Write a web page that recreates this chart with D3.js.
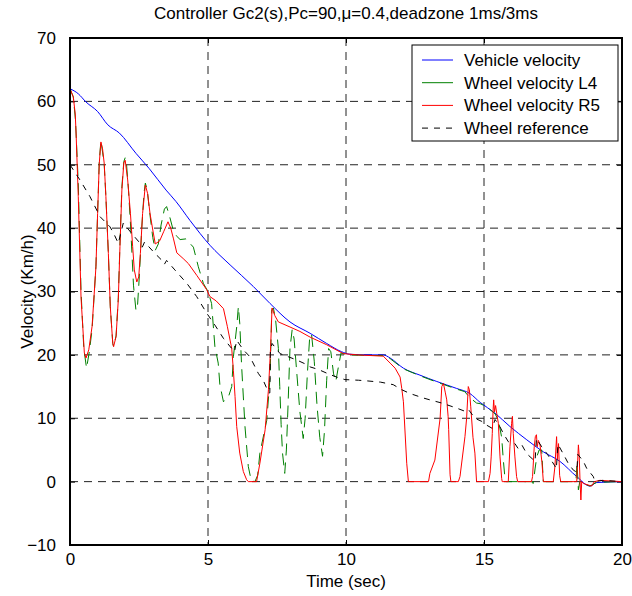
<!DOCTYPE html>
<html><head><meta charset="utf-8">
<script src="https://cdn.jsdelivr.net/npm/d3@7"></script>
<style>
body{margin:0;background:#fff}
svg{display:block}
text{font-family:"Liberation Sans",Arial,Helvetica,sans-serif;fill:#000}
</style>
</head><body>
<svg id="chart" width="632" height="596"></svg>
<script>
// ---------- data ----------
const chartTitle = "Controller Gc2(s),Pc=90,\u03bc=0.4,deadzone 1ms/3ms";
const xLabel = "Time (sec)";
const yLabel = "Velocity (Km/h)";
const xTicks = [0, 5, 10, 15, 20];
const yTicks = [-10, 0, 10, 20, 30, 40, 50, 60, 70];
const seriesNames = ["Vehicle velocity", "Wheel velocity L4", "Wheel velocity R5", "Wheel reference"];

const timeVehicle = [0,0.3,0.58,1.0,1.37,1.79,2.39,2.87,3.48,3.84,4.35,5.07,5.8,6.64,7.25,7.97,8.7,9.3,9.84,10.14,10.87,11.35,11.6,12.08,12.68,13.29,14.01,14.49,14.86,15.4,15.94,16.55,17.15,17.75,18.36,18.84,19.08,20];
const vehicleVelocity = [62,61.2,59.9,58.4,56.3,55,51.8,49.4,46,44.2,41.2,37.3,34.2,30.8,28.1,25.2,23.4,21.8,20.5,20.1,20,20,19.5,17.9,16.8,15.8,14.7,13.9,12.5,10.8,8.7,6.6,4.7,3.2,0.8,-0.7,-0.15,0];

const timeL4 = [0,0.12,0.2,0.3,0.4,0.5,0.6,0.7,0.8,0.94,1.0,1.06,1.12,1.18,1.24,1.3,1.39,1.46,1.55,1.58,1.67,1.75,1.81,1.88,1.95,2.0,2.05,2.12,2.2,2.3,2.39,2.45,2.52,2.6,2.68,2.73,2.8,2.9,3.0,3.09,3.2,3.3,3.42,3.5,3.6,3.72,3.85,3.99,4.2,4.47,4.65,4.83,5.0,5.13,5.25,5.37,5.43,5.56,5.62,5.75,5.86,5.92,6.04,6.1,6.15,6.22,6.34,6.46,6.56,6.7,6.8,6.88,7.13,7.25,7.31,7.37,7.45,7.55,7.6,7.65,7.7,7.78,7.84,7.9,7.97,8.05,8.12,8.22,8.33,8.45,8.52,8.6,8.68,8.75,8.85,8.95,9.05,9.15,9.22,9.3,9.37,9.45,9.55,9.63,9.72,9.82,9.9,10.14,10.87,11.35,11.6,12.08,12.68,13.29,14.01,14.3,14.5,14.73,14.86,15.1,15.4,15.52,15.64,15.7,15.76,15.8,16.72,16.78,16.85,16.91,17.0,17.09,17.15,18.33,18.37,18.42,18.47,18.6,18.84,19.08,20];
const wheelL4 = [62,60.7,57,47,30,21,17.9,20.5,24,34,42.3,50.5,53.8,52,50,45,36,27.6,21.8,21.3,23,29,37.5,46.5,50.5,51.1,50,46,40,31,27,28,33,40,45.5,47.1,46,42,38.5,36.5,37.5,40.5,43,43.4,42,40,38.8,38.2,38.3,37,33.9,31.3,30,28.1,21.3,18.7,15.3,12.6,12.9,13.5,15,19.7,24.4,27.6,25,18.1,8.7,2.4,0.3,0,1,4.5,9.7,16.6,27.1,27.4,25.5,21,15,9,4.5,1.3,5,12,21,24,22.5,17,11,6.8,10,17,22.5,23.3,19,12,7,4,8,16,21,20.5,17,15.8,18,20.3,20.2,20,19.9,19.9,19.4,17.8,16.7,15.7,14.6,14.2,13.2,12.4,12.3,11.8,10.7,9.7,7,3.4,0.5,0,0,-0.3,2,3.9,5,5,0,0,2.9,-1.3,0,-0.3,-0.7,-0.1,0];

const timeR5 = [0,0.12,0.19,0.22,0.3,0.4,0.52,0.58,0.68,0.8,0.94,1.0,1.06,1.12,1.18,1.24,1.3,1.39,1.46,1.55,1.58,1.67,1.75,1.81,1.88,1.95,2.0,2.09,2.19,2.27,2.33,2.42,2.49,2.55,2.63,2.73,2.81,2.9,3.0,3.09,3.25,3.4,3.55,3.65,3.75,3.87,4.1,4.29,4.6,4.95,5.07,5.3,5.56,5.7,5.86,5.92,5.98,6.04,6.15,6.28,6.4,6.46,6.76,6.88,7.07,7.19,7.27,7.32,7.42,7.55,7.97,8.33,8.7,9.3,9.9,10.4,11.35,11.6,11.78,11.96,12.02,12.08,12.2,12.26,12.99,13.04,13.22,13.41,13.47,13.53,13.6,13.65,13.7,13.72,13.77,13.8,14.07,14.13,14.31,14.37,14.43,14.47,14.52,14.6,14.67,14.73,15.16,15.22,15.26,15.3,15.33,15.35,15.38,15.42,15.46,15.52,15.58,15.64,15.66,15.88,15.94,16.0,16.03,16.06,16.12,16.18,16.22,16.72,16.76,16.82,16.86,16.9,16.93,16.97,17.03,17.1,17.15,17.51,17.57,17.63,17.66,17.7,17.74,17.78,18.36,18.42,18.45,18.48,18.51,18.54,18.6,18.9,19.0,19.2,20];
const wheelR5 = [62,60.7,58,55,45,29,20.3,19.5,20.8,24.5,33.9,42.3,50.2,53.6,52.5,50.2,45,36,27.6,21.8,21.3,22.9,28.7,37.1,46,50.3,50.7,47.6,42.3,37.1,33.4,31.5,32.3,36,42.3,46.8,45.5,42.3,39.7,37.5,38,39.5,41,40,38.3,36.1,35.2,34.4,32.5,30.3,29.2,28.5,27.3,24.5,21,17.5,13.4,8.7,4.5,1.6,0.3,0,0,2.9,8.2,14.5,21.3,27.4,26.2,25.2,24.4,23.7,22.8,21.6,20.2,20,19.8,18.7,17.9,16.5,14.7,12.6,2.9,0,0,1.3,3.4,10,15,15.5,14,12.9,10.3,8.2,1.1,0,0,0.8,7.1,10,15,14.5,11.8,7,4.5,0,0,1.3,3.9,7.6,11.3,12.9,11,12,10.8,9.2,3.9,0.5,0,0,5.5,9.2,10.3,7.6,3.9,0.8,0,0,0.8,5.5,7.1,7.4,5.5,6.5,5.8,3,0,0,2.4,7.1,3.5,6,1,0,0,5.8,4,0,-2.9,0,-0.3,-0.7,0,0.2,0];

const timeRef = [0,0.36,0.72,1.09,1.45,1.6,1.75,1.93,2.23,2.54,2.62,2.7,3.08,3.38,3.42,3.5,3.8,4.23,4.59,4.95,5.25,5.56,5.86,5.96,6.04,6.28,6.52,6.82,7.0,7.2,7.24,7.26,7.32,7.61,7.91,8.21,8.51,8.7,9.0,9.36,9.66,9.96,10.45,10.75,11.25,11.71,12.02,12.32,12.8,13.04,13.47,14.01,14.37,14.45,14.67,14.92,15.1,15.3,15.4,15.55,15.7,15.88,16.12,16.24,16.37,16.55,16.85,16.9,17.09,17.3,17.55,17.62,17.68,17.93,18.05,18.24,18.36,18.4,18.6,18.72,18.96,19.02,19.3,20];
const wheelRef = [50,47.6,45,41.8,40.2,39,37.6,40.8,39.2,37.6,37,37.8,36,34.7,34.3,34.9,33.4,31.3,29.2,26.6,24.7,22.6,21,20.5,22.3,20.8,19.7,17.1,16,14,14,20.5,21.8,20.2,19.7,19.2,18.6,18.1,17.7,17,16.5,16.1,16,15.9,15.7,15.3,14.5,13.9,13.2,12.9,12.4,11.6,11,11.3,10,9.5,8.9,8.4,9.8,8.9,7.6,6.3,6,5.2,5.8,4.4,3.2,6.8,5.5,4.3,2.6,2,5.9,3.9,2.9,1.8,1.5,4.3,3.2,2.1,0.8,0,0.2,0];

// ---------- layout ----------
const svg = d3.select("#chart");
const pL = 70, pR = 622, pT = 38, pB = 545;
const x = d3.scaleLinear().domain([0, 20]).range([pL, pR]);
const y = d3.scaleLinear().domain([-10, 70]).range([pB, pT]);

// grid
const grid = svg.append("g").attr("stroke", "#222").attr("stroke-width", 1).attr("stroke-dasharray", "8,6").attr("fill", "none");
xTicks.filter(d => d > 0 && d < 20).forEach(d => {
  grid.append("line").attr("x1", x(d)).attr("x2", x(d)).attr("y1", pT).attr("y2", pB);
});
yTicks.filter(d => d > -10 && d < 70).forEach(d => {
  grid.append("line").attr("x1", pL).attr("x2", pR).attr("y1", y(d)).attr("y2", y(d));
});

// axes
const fs = 17;
const xAxis = svg.append("g").attr("transform", `translate(0,${pB})`)
  .call(d3.axisBottom(x).tickValues(xTicks).tickSizeInner(-5).tickSizeOuter(0).tickPadding(8).tickFormat(d3.format("d")));
const xAxisTop = svg.append("g").attr("transform", `translate(0,${pT})`)
  .call(d3.axisTop(x).tickValues(xTicks).tickSizeInner(-5).tickSizeOuter(0).tickFormat(""));
const yAxis = svg.append("g").attr("transform", `translate(${pL},0)`)
  .call(d3.axisLeft(y).tickValues(yTicks).tickSizeInner(-5).tickSizeOuter(0).tickPadding(14).tickFormat(d3.format("d")));
const yAxisRight = svg.append("g").attr("transform", `translate(${pR},0)`)
  .call(d3.axisRight(y).tickValues(yTicks).tickSizeInner(-5).tickSizeOuter(0).tickFormat(""));
[xAxis, xAxisTop, yAxis, yAxisRight].forEach(g => {
  g.select(".domain").remove();
  g.selectAll("line").attr("stroke", "#000");
  g.selectAll("text").attr("font-size", fs).attr("font-family", '"Liberation Sans",Arial,sans-serif').attr("fill", "#000");
});

// lines
svg.append("defs").append("clipPath").attr("id", "plotclip")
  .append("rect").attr("x", pL).attr("y", pT).attr("width", pR - pL).attr("height", pB - pT);
const plot = svg.append("g").attr("clip-path", "url(#plotclip)");
const lineGen = d3.line().x(d => x(d[0])).y(d => y(d[1]));
const zip = (a, b) => a.map((t, i) => [t, b[i]]);

plot.append("path").datum(zip(timeVehicle, vehicleVelocity))
  .attr("d", d3.line().x(d => x(d[0])).y(d => y(d[1])).curve(d3.curveMonotoneX))
  .attr("fill", "none").attr("stroke", "#0000ff").attr("stroke-width", 1);
plot.append("path").datum(zip(timeL4, wheelL4)).attr("d", lineGen)
  .attr("fill", "none").attr("stroke", "#008000").attr("stroke-width", 1).attr("stroke-dasharray", "12,7");
plot.append("path").datum(zip(timeR5, wheelR5)).attr("d", lineGen)
  .attr("fill", "none").attr("stroke", "#ff0000").attr("stroke-width", 1);
plot.append("path").datum(zip(timeRef, wheelRef)).attr("d", lineGen)
  .attr("fill", "none").attr("stroke", "#000").attr("stroke-width", 1).attr("stroke-dasharray", "6,6");

// frame
svg.append("rect").attr("x", pL).attr("y", pT).attr("width", pR - pL).attr("height", pB - pT)
  .attr("fill", "none").attr("stroke", "#000").attr("stroke-width", 2);

// title & labels
svg.append("text").attr("x", (pL + pR) / 2).attr("y", 19).attr("text-anchor", "middle")
  .attr("font-size", 17).text(chartTitle);
svg.append("text").attr("x", (pL + pR) / 2).attr("y", 587).attr("text-anchor", "middle")
  .attr("font-size", fs).text(xLabel);
svg.append("text").attr("transform", `translate(33,${(pT + pB) / 2}) rotate(-90)`).attr("text-anchor", "middle")
  .attr("font-size", fs).text(yLabel);

// legend
const legendStyles = [
  {color: "#0000ff", dash: null},
  {color: "#008000", dash: null},
  {color: "#ff0000", dash: null},
  {color: "#000", dash: "6,6"}
];
const lg = svg.append("g");
lg.append("rect").attr("x", 412).attr("y", 45).attr("width", 206).attr("height", 96)
  .attr("fill", "#fff").attr("stroke", "#000").attr("stroke-width", 1);
seriesNames.forEach((name, i) => {
  const yy = 60 + i * 22.7;
  lg.append("line").attr("x1", 422).attr("x2", 453).attr("y1", yy).attr("y2", yy)
    .attr("stroke", legendStyles[i].color).attr("stroke-width", 1)
    .attr("stroke-dasharray", legendStyles[i].dash);
  lg.append("text").attr("x", 464).attr("y", yy).attr("dy", "0.35em").attr("font-size", fs).text(name);
});
</script>
</body></html>
